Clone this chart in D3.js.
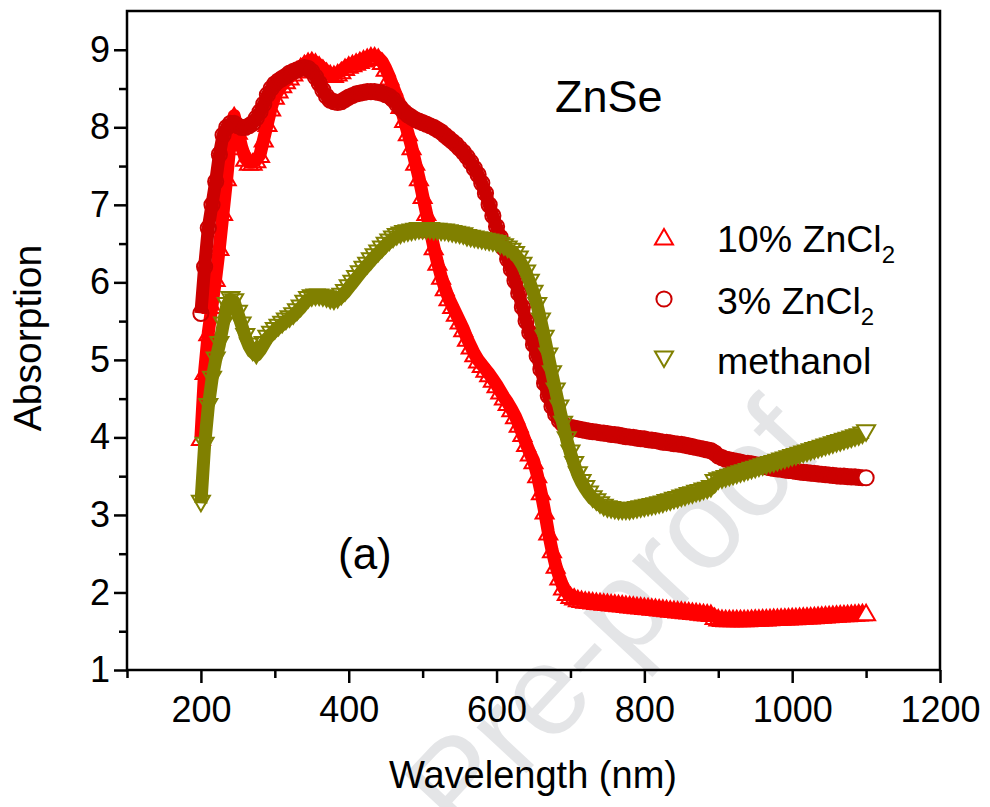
<!DOCTYPE html>
<html><head><meta charset="utf-8">
<script src="https://cdn.jsdelivr.net/npm/d3@7"></script>
<style>
body{margin:0;background:#fff}
svg{display:block}
text{font-family:"Liberation Sans",Arial,Helvetica,sans-serif}
</style>
</head><body>
<svg id="chart" width="990" height="807"></svg>
<script>
// ---- data (absorption vs wavelength, every 5 nm) ----
const wavelength = d3.range(200, 1101, 5);
const tenPct = [
4.0,4.85,5.35,5.7,6.05,6.45,6.9,7.35,7.85,8.15,
7.95,7.75,7.6,7.55,7.55,7.58,7.65,7.85,8.05,8.25,
8.4,8.48,8.55,8.6,8.65,8.7,8.74,8.78,8.82,8.85,
8.86,8.84,8.8,8.76,8.72,8.69,8.68,8.7,8.73,8.77,
8.8,8.82,8.84,8.86,8.88,8.9,8.92,8.92,8.9,8.85,
8.76,8.65,8.52,8.4,8.28,8.1,7.93,7.75,7.55,7.35,
7.12,6.9,6.68,6.46,6.26,6.08,5.93,5.8,5.7,5.6,
5.5,5.4,5.28,5.18,5.08,5.0,4.94,4.88,4.82,4.75,
4.68,4.6,4.52,4.45,4.37,4.28,4.17,4.05,3.92,3.8,
3.7,3.52,3.3,3.05,2.78,2.55,2.35,2.2,2.07,2.0,
1.96,1.94,1.92,1.91,1.9,1.895,1.89,1.885,1.88,1.875,
1.87,1.865,1.86,1.855,1.85,1.845,1.84,1.835,1.83,1.825,
1.82,1.815,1.81,1.805,1.8,1.795,1.79,1.785,1.78,1.775,
1.77,1.765,1.76,1.755,1.75,1.745,1.74,1.735,1.73,1.69,
1.67,1.665,1.66,1.66,1.66,1.66,1.66,1.66,1.662,1.664,
1.666,1.668,1.67,1.672,1.674,1.676,1.678,1.68,1.682,1.684,
1.686,1.688,1.69,1.692,1.695,1.698,1.7,1.703,1.706,1.709,
1.712,1.715,1.718,1.721,1.724,1.727,1.73,1.733,1.736,1.738,
1.74];
const threePct = [
5.6,6.2,6.7,7.0,7.3,7.65,7.9,8.0,8.05,8.05,
8.02,8.0,8.0,8.02,8.05,8.12,8.2,8.3,8.42,8.5,
8.56,8.6,8.63,8.66,8.7,8.72,8.74,8.76,8.77,8.76,
8.72,8.65,8.57,8.48,8.4,8.35,8.33,8.32,8.33,8.36,
8.39,8.41,8.43,8.44,8.45,8.46,8.46,8.46,8.45,8.44,
8.42,8.4,8.36,8.3,8.25,8.2,8.16,8.13,8.1,8.08,
8.06,8.04,8.02,8.0,7.97,7.94,7.9,7.86,7.82,7.78,
7.73,7.68,7.62,7.55,7.47,7.39,7.28,7.15,7.0,6.86,
6.72,6.58,6.44,6.3,6.17,6.02,5.86,5.68,5.5,5.35,
5.2,5.05,4.88,4.7,4.54,4.4,4.3,4.22,4.17,4.14,
4.13,4.12,4.11,4.1,4.09,4.08,4.075,4.07,4.06,4.055,
4.05,4.04,4.035,4.03,4.02,4.01,4.005,4.0,3.99,3.985,
3.98,3.97,3.965,3.96,3.95,3.94,3.935,3.93,3.92,3.915,
3.91,3.9,3.89,3.88,3.87,3.86,3.85,3.84,3.83,3.8,
3.76,3.74,3.72,3.71,3.7,3.69,3.68,3.67,3.665,3.66,
3.65,3.64,3.63,3.62,3.61,3.6,3.595,3.59,3.58,3.575,
3.57,3.56,3.555,3.55,3.545,3.54,3.535,3.53,3.525,3.52,
3.515,3.51,3.505,3.5,3.5,3.495,3.49,3.49,3.485,3.48,
3.48];
const methanol = [
3.15,3.9,4.4,4.75,5.0,5.2,5.45,5.7,5.78,5.75,
5.6,5.45,5.3,5.18,5.1,5.06,5.12,5.2,5.28,5.33,
5.38,5.42,5.46,5.5,5.53,5.57,5.62,5.67,5.73,5.78,
5.8,5.81,5.81,5.8,5.79,5.77,5.76,5.78,5.82,5.87,
5.93,5.99,6.05,6.11,6.17,6.22,6.28,6.33,6.38,6.43,
6.48,6.52,6.56,6.59,6.61,6.63,6.64,6.65,6.66,6.67,
6.67,6.67,6.67,6.66,6.66,6.65,6.65,6.64,6.63,6.62,
6.61,6.6,6.58,6.57,6.56,6.55,6.54,6.53,6.52,6.51,
6.5,6.48,6.46,6.43,6.4,6.36,6.3,6.22,6.12,6.0,
5.86,5.7,5.5,5.28,5.05,4.82,4.6,4.38,4.17,3.97,
3.8,3.65,3.52,3.42,3.34,3.27,3.21,3.17,3.13,3.1,
3.08,3.07,3.06,3.05,3.05,3.05,3.05,3.06,3.07,3.08,
3.09,3.1,3.11,3.12,3.13,3.14,3.16,3.17,3.19,3.2,
3.22,3.23,3.25,3.26,3.28,3.29,3.31,3.32,3.34,3.42,
3.44,3.455,3.47,3.485,3.5,3.515,3.53,3.545,3.56,3.575,
3.59,3.605,3.62,3.635,3.65,3.665,3.68,3.695,3.71,3.725,
3.74,3.755,3.77,3.785,3.8,3.815,3.83,3.845,3.86,3.875,
3.89,3.905,3.92,3.935,3.95,3.965,3.98,3.995,4.01,4.03,
4.06];
const xMajorTicks = [200, 400, 600, 800, 1000, 1200];
const xMinorTicks = [100, 300, 500, 700, 900, 1100];
const yMajorTicks = [1, 2, 3, 4, 5, 6, 7, 8, 9];
const yMinorTicks = [1.5, 2.5, 3.5, 4.5, 5.5, 6.5, 7.5, 8.5];
const seriesLabels = ["10% ZnCl", "3% ZnCl", "methanol"];
const seriesSubscripts = ["2", "2", ""];

// ---- layout ----
const svg = d3.select("#chart");
const x = d3.scaleLinear().domain([100, 1200]).range([127, 940]);
const y = d3.scaleLinear().domain([1, 9.5]).range([670, 11]);

const series = [
  {values: tenPct, color: "#ff0000", shape: "up"},
  {values: threePct, color: "#cc0000", shape: "circle"},
  {values: methanol, color: "#808000", shape: "down"}
];

// watermark
svg.append("text")
  .attr("transform", "translate(826,452) rotate(-47)")
  .attr("text-anchor", "end")
  .attr("font-size", 128)
  .attr("fill", "#e4e5e7")
  .text("Journal Pre-proof");

function markerPath(shape) {
  if (shape === "up") return "M0,-8L9,7.5L-9,7.5Z";
  if (shape === "down") return "M0,8L9,-7.5L-9,-7.5Z";
  return null;
}

const line = d3.line();
series.forEach(s => {
  const pts = wavelength.map((w, i) => [x(w), y(s.values[i])]);
  const g = svg.append("g");
  g.append("path")
    .attr("d", line(pts))
    .attr("fill", "none")
    .attr("stroke", s.color)
    .attr("stroke-width", 13)
    .attr("stroke-linejoin", "round");
  pts.forEach((p, i) => {
    const last = i === pts.length - 1;
    if (s.shape === "circle") {
      g.append("circle").attr("cx", p[0]).attr("cy", p[1]).attr("r", 7.6)
        .attr("fill", last ? "#fff" : "none").attr("stroke", s.color).attr("stroke-width", 2);
    } else {
      g.append("path").attr("transform", `translate(${p[0]},${p[1]})`)
        .attr("d", markerPath(s.shape))
        .attr("fill", last ? "#fff" : "none").attr("stroke", s.color).attr("stroke-width", 2);
    }
  });
});

// axes
const axisFont = 36;
const gxMinor = svg.append("g").attr("transform", "translate(0,670)")
  .call(d3.axisBottom(x).tickValues(xMinorTicks).tickSize(8).tickFormat(""));
const gx = svg.append("g").attr("transform", "translate(0,670)")
  .call(d3.axisBottom(x).tickValues(xMajorTicks).tickSize(13).tickPadding(13).tickFormat(d3.format("d")));
const gyMinor = svg.append("g").attr("transform", "translate(127,0)")
  .call(d3.axisLeft(y).tickValues(yMinorTicks).tickSize(8).tickFormat(""));
const gy = svg.append("g").attr("transform", "translate(127,0)")
  .call(d3.axisLeft(y).tickValues(yMajorTicks).tickSize(13).tickPadding(4).tickFormat(d3.format("d")));
[gxMinor, gx, gyMinor, gy].forEach(g => {
  g.select(".domain").remove();
  g.selectAll(".tick line").attr("stroke", "#000").attr("stroke-width", 2.5);
  g.selectAll(".tick text").attr("font-size", axisFont).attr("fill", "#000")
    .attr("font-family", "'Liberation Sans',Arial,sans-serif");
});

// frame
svg.append("rect").attr("x", 127).attr("y", 11).attr("width", 940 - 127).attr("height", 670 - 11)
  .attr("fill", "none").attr("stroke", "#000").attr("stroke-width", 2.5);

// axis titles
svg.append("text").attr("x", 533).attr("y", 788).attr("text-anchor", "middle")
  .attr("font-size", 38).text("Wavelength (nm)");
svg.append("text").attr("transform", "translate(41,338) rotate(-90)").attr("text-anchor", "middle")
  .attr("font-size", 39).text("Absorption");

// annotations
svg.append("text").attr("x", 555).attr("y", 112).attr("font-size", 45).text("ZnSe");
svg.append("text").attr("x", 338).attr("y", 569).attr("font-size", 44).text("(a)");

// legend
const legendY = [237, 299, 359];
series.forEach((s, i) => {
  const cy = legendY[i];
  if (s.shape === "circle") {
    svg.append("circle").attr("cx", 664).attr("cy", cy).attr("r", 7.6)
      .attr("fill", "none").attr("stroke", s.color).attr("stroke-width", 2);
  } else {
    svg.append("path").attr("transform", `translate(664,${cy})`).attr("d", markerPath(s.shape))
      .attr("fill", "none").attr("stroke", s.color).attr("stroke-width", 2);
  }
  const t = svg.append("text").attr("x", 717).attr("y", cy + 15).attr("font-size", 37.5);
  t.append("tspan").text(seriesLabels[i]);
  if (seriesSubscripts[i]) t.append("tspan").attr("font-size", 24).attr("dy", 11).text(seriesSubscripts[i]);
});
</script>
</body></html>
